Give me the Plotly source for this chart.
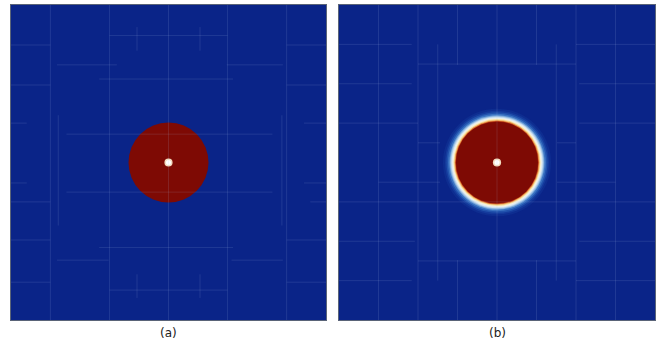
import plotly.graph_objects as go

# ---- panel content (coordinates in unit-square domain units, y measured downward) ----
PANEL_LABELS = ["(a)", "(b)"]
CENTER = (0.5, 0.5)

# panel (a): sharp droplet
A_DROP_RADIUS = 0.127
# panel (b): diffuse droplet profile, outer radius -> colour (drawn outside-in)
B_PROFILE_RADII = [0.171, 0.1646, 0.1598, 0.155, 0.1503, 0.1472, 0.144, 0.1408,
                   0.1377, 0.1351, 0.1329, 0.131, 0.1297]
B_PROFILE_COLORS = ["#0e2d90", "#143a9c", "#2152ad", "#3a72c2", "#74a4d9", "#aecdeb",
                    "#ddeaf2", "#f6f2e0", "#f8e0a0", "#f0b060", "#d86a30", "#a82a0e",
                    "#7e0a04"]
# nucleus marker
NUCLEUS_RADII = [0.013, 0.008]
NUCLEUS_COLORS = ["#f3dcc0", "#ffffff"]

# mesh lines, panel (a)
A_VSEGS = [(0.125, 0, 1), (0.3125, 0, 1), (0.5, 0, 1), (0.6875, 0, 1), (0.875, 0, 1),
           (0.40, 0.07, 0.145), (0.60, 0.07, 0.145), (0.40, 0.855, 0.93), (0.60, 0.855, 0.93),
           (0.86, 0.35, 0.70), (0.15, 0.35, 0.70)]
A_HSEGS = [(0.097, 0.3125, 0.6875), (0.19, 0.146, 0.336), (0.19, 0.685, 0.863),
           (0.235, 0.28, 0.705), (0.41, 0.176, 0.83), (0.594, 0.176, 0.83),
           (0.77, 0.28, 0.705), (0.81, 0.146, 0.31), (0.81, 0.70, 0.863),
           (0.905, 0.3125, 0.6875),
           (0.127, 0, 0.125), (0.254, 0, 0.125), (0.375, 0, 0.05), (0.565, 0, 0.05),
           (0.625, 0, 0.125), (0.746, 0, 0.125), (0.88, 0, 0.125),
           (0.127, 0.875, 1), (0.254, 0.875, 1), (0.375, 0.93, 1), (0.565, 0.93, 1),
           (0.625, 0.95, 1), (0.746, 0.875, 1), (0.88, 0.875, 1)]

# mesh lines, panel (b)
B_VSEGS = [(0.125, 0, 1), (0.25, 0, 1), (0.3125, 0.125, 0.875), (0.375, 0, 0.19),
           (0.375, 0.81, 1), (0.5, 0, 1), (0.625, 0, 0.19), (0.625, 0.81, 1),
           (0.6875, 0.125, 0.875), (0.75, 0, 1), (0.875, 0, 1)]
B_HSEGS = [(0.125, 0, 0.23), (0.125, 0.75, 1), (0.1875, 0.25, 0.75),
           (0.25, 0, 0.23), (0.25, 0.76, 1), (0.375, 0, 0.25), (0.375, 0.76, 1),
           (0.4375, 0.25, 0.32), (0.4375, 0.69, 0.75), (0.5625, 0.125, 0.32),
           (0.5625, 0.69, 0.875), (0.625, 0, 1), (0.75, 0, 0.24), (0.75, 0.76, 1),
           (0.8125, 0.25, 0.75), (0.875, 0, 0.23), (0.875, 0.75, 1)]

BG_BLUE = "#0a2488"
DROP_RED = "#7e0a04"
MESH_COLOR = "rgba(170,190,235,0.14)"
FRAME_COLOR = "#5a6478"

fig = go.Figure()

# invisible anchor traces so both axes exist
for xa, ya in (("x", "y"), ("x2", "y2")):
    fig.add_trace(go.Scatter(x=[0, 1], y=[0, 1], xaxis=xa, yaxis=ya, mode="markers",
                             marker=dict(opacity=0), hoverinfo="skip", showlegend=False))

shapes = []


def disk(xref, yref, r, color):
    cx, cy = CENTER
    return dict(type="circle", xref=xref, yref=yref, x0=cx - r, x1=cx + r,
                y0=cy - r, y1=cy + r, fillcolor=color, line=dict(width=0), layer="below")


def seg(xref, yref, x0, y0, x1, y1):
    return dict(type="line", xref=xref, yref=yref, x0=x0, y0=y0, x1=x1, y1=y1,
                line=dict(color=MESH_COLOR, width=1), layer="above")


# panel (a)
shapes.append(disk("x", "y", A_DROP_RADIUS, DROP_RED))
for r, c in zip(NUCLEUS_RADII, NUCLEUS_COLORS):
    shapes.append(disk("x", "y", r, c))
for x, y0, y1 in A_VSEGS:
    shapes.append(seg("x", "y", x, y0, x, y1))
for y, x0, x1 in A_HSEGS:
    shapes.append(seg("x", "y", x0, y, x1, y))

# panel (b)
for r, c in zip(B_PROFILE_RADII, B_PROFILE_COLORS):
    shapes.append(disk("x2", "y2", r, c))
for r, c in zip(NUCLEUS_RADII, NUCLEUS_COLORS):
    shapes.append(disk("x2", "y2", r, c))
for x, y0, y1 in B_VSEGS:
    shapes.append(seg("x2", "y2", x, y0, x, y1))
for y, x0, x1 in B_HSEGS:
    shapes.append(seg("x2", "y2", x0, y, x1, y))

W, H = 667, 345
x_dom_a = [11 / W, 326 / W]
x_dom_b = [339 / W, 655 / W]
y_dom = [1 - 320 / H, 1 - 5 / H]

axis_common = dict(showgrid=False, zeroline=False, showticklabels=False, ticks="",
                   showline=True, mirror=True, linecolor=FRAME_COLOR, linewidth=1,
                   fixedrange=True)

label_font = dict(family="DejaVu Sans", size=12, color="#222222")

fig.update_layout(
    width=W, height=H,
    margin=dict(l=0, r=0, t=0, b=0),
    paper_bgcolor="white",
    plot_bgcolor=BG_BLUE,
    showlegend=False,
    shapes=shapes,
    xaxis=dict(domain=x_dom_a, range=[0, 1], anchor="y", **axis_common),
    yaxis=dict(domain=y_dom, range=[1, 0], anchor="x", **axis_common),
    xaxis2=dict(domain=x_dom_b, range=[0, 1], anchor="y2", **axis_common),
    yaxis2=dict(domain=y_dom, range=[1, 0], anchor="x2", **axis_common),
    annotations=[
        dict(text=PANEL_LABELS[0], xref="paper", yref="paper",
             x=(x_dom_a[0] + x_dom_a[1]) / 2, y=1 - 333 / H, xanchor="center",
             yanchor="middle", showarrow=False, font=label_font),
        dict(text=PANEL_LABELS[1], xref="paper", yref="paper",
             x=(x_dom_b[0] + x_dom_b[1]) / 2, y=1 - 333 / H, xanchor="center",
             yanchor="middle", showarrow=False, font=label_font),
    ],
)

fig.write_html("out.html")
